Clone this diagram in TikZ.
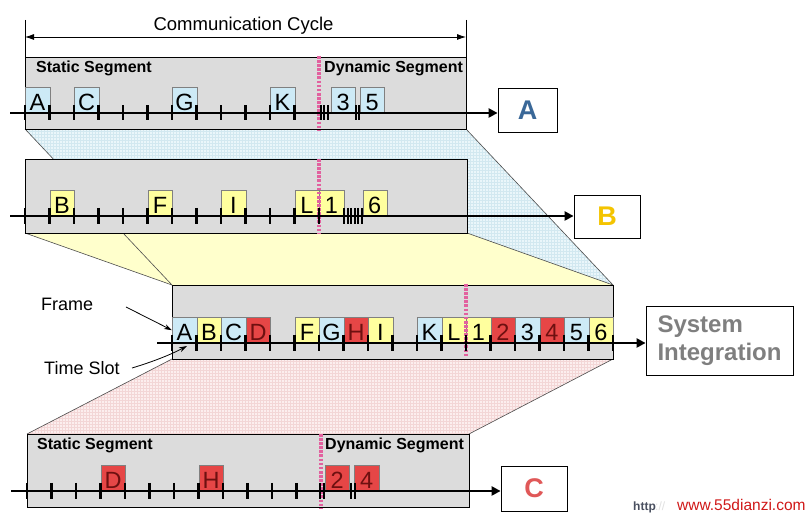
\documentclass[tikz,border=0pt]{standalone}
\usepackage{fontspec}
\setmainfont{Liberation Sans}
\usetikzlibrary{arrows.meta}
\definecolor{panelgray}{HTML}{DCDCDC}
\definecolor{fblue}{HTML}{CDEAF6}
\definecolor{fyellow}{HTML}{FFFF9E}
\definecolor{fred}{HTML}{E64646}
\definecolor{tred}{HTML}{6E1010}
\definecolor{dpink}{HTML}{E2619F}
\definecolor{gblue}{HTML}{EAF6FA}
\definecolor{gbluel}{HTML}{D2E8F0}
\definecolor{gyellow}{HTML}{FFFFCC}
\definecolor{gpink}{HTML}{FCEEEE}
\definecolor{gpinkl}{HTML}{F3D6D6}
\definecolor{lblue}{HTML}{3A6898}
\definecolor{lgold}{HTML}{F4C400}
\definecolor{lred}{HTML}{E05858}
\definecolor{sgray}{HTML}{7F7F7F}
\definecolor{wmred}{HTML}{D01818}
\definecolor{wmgray}{HTML}{4A5060}
\begin{document}
\begin{tikzpicture}[x=1pt,y=-1pt,
  panel/.style={fill=panelgray, draw=black, line width=0.8pt},
  frm/.style={draw=gray, line width=0.5pt, minimum width=24.5pt, minimum height=25pt,
    inner sep=0pt, anchor=south west, text height=21pt, text depth=1pt,
    font=\fontsize{23.5}{23.5}\selectfont},
  fb/.style={frm, fill=fblue},
  fy/.style={frm, fill=fyellow},
  fr/.style={frm, fill=fred, text=tred},
  tl/.style={line width=2.6pt, -{Triangle[length=9pt,width=9pt]}},
  tick/.style={line width=2.6pt},
  mtick/.style={line width=2pt},
  seg/.style={font=\bfseries\fontsize{16}{16}\selectfont, anchor=base west, inner sep=0pt},
  dyn/.style={dpink, line width=3.8pt, dash pattern=on 2.7pt off 1.4pt},
  lbl/.style={draw=black, line width=0.8pt, fill=white, inner sep=0pt,
    font=\bfseries\fontsize{27}{27}\selectfont},
  projedge/.style={draw=black!70, line width=0.6pt},
  note/.style={font=\fontsize{18}{18}\selectfont, anchor=base west, inner sep=0pt},
  thinarrow/.style={line width=0.8pt, -{Stealth[length=8pt,width=5pt]}}
]
\useasboundingbox (0,0) rectangle (812,518);
\fill[white] (0,0) rectangle (812,518);

% ---------- projections ----------
\begin{scope}
  \clip (25,129) -- (466,129) -- (613,285) -- (172,285) -- cycle;
  \fill[gblue] (20,125) rectangle (620,290);
  \foreach \x in {20,23,...,620} \draw[gbluel,line width=0.35pt] (\x,125) -- (\x,290);
  \foreach \y in {125,128,...,290} \draw[gbluel,line width=0.35pt] (20,\y) -- (620,\y);
\end{scope}
\fill[gyellow] (25,233) -- (467,233) -- (613,285) -- (172,285) -- cycle;
\begin{scope}
  \clip (172,359) -- (613,359) -- (469,434) -- (27,434) -- cycle;
  \fill[gpink] (20,355) rectangle (620,440);
  \foreach \x in {20,23,...,620} \draw[gpinkl,line width=0.35pt] (\x,355) -- (\x,440);
  \foreach \y in {355,358,...,440} \draw[gpinkl,line width=0.35pt] (20,\y) -- (620,\y);
\end{scope}
\draw[projedge] (25,129) -- (172,285);
\draw[projedge] (466,129) -- (613,285);
\draw[projedge] (25,233) -- (172,285);
\draw[projedge] (467,233) -- (613,285);
\draw[projedge] (172,359) -- (27,434);
\draw[projedge] (613,359) -- (469,434);

% ---------- communication cycle ----------
\draw[line width=0.8pt] (25,20) -- (25,57);
\draw[line width=0.8pt] (466,20) -- (466,57);
\coordinate (cc1) at (25,37);
\coordinate (cc2) at (466,37);
\draw[line width=0.8pt, {Latex[length=9pt,width=6pt]}-{Latex[length=9pt,width=6pt]}] (cc1) -- (cc2);
\node[font=\fontsize{18.5}{18.5}\selectfont, anchor=base, inner sep=0pt] (cclbl) at (243.5,31) {Communication Cycle};

% ---------- label boxes ----------
\node[lbl, text=lblue, minimum width=59pt, minimum height=44pt] (boxA) at (527.5,110) {A};
\node[lbl, text=lgold, minimum width=66pt, minimum height=43pt] (boxB) at (607,216.5) {B};
\node[lbl, text=lred, minimum width=66pt, minimum height=45pt] (boxC) at (534,488.5) {C};
\node[lbl, text=sgray, minimum width=147pt, minimum height=69pt, align=left,
      font=\bfseries\fontsize{24}{28}\selectfont] (boxSI) at (719.5,340.5) {System\\Integration};

% ================= ROW A =================
\draw[panel] (25,57) rectangle (466,129);
\node[seg] (sA) at (36,72.7) {Static Segment};
\node[seg] (dA) at (324,72.7) {Dynamic Segment};
\node[fb] (a1) at (25,113) {A};
\node[fb] (a2) at (74,113) {C};
\node[fb] (a3) at (172,113) {G};
\node[fb] (a4) at (270,113) {K};
\node[fb, minimum width=24pt] (a5) at (331,113) {3};
\node[fb, minimum width=24pt] (a6) at (360,113) {5};
\draw[dyn] (319,56) -- (319,130);
\coordinate (stA) at (10,113);
\draw[tl] (stA) -- (stA -| boxA.west);
\foreach \k in {0,...,11} \draw[tick] ({25+24.5*\k},105.5) -- ++(0,15);
\foreach \x in {320.5,324,327.5,355.5,359} \draw[mtick] (\x,105.5) -- ++(0,15);

% ================= ROW B =================
\draw[panel] (25,159) rectangle (467,233);
\node[fy] (b1) at (49.5,216) {B};
\node[fy] (b2) at (147.5,216) {F};
\node[fy] (b3) at (221,216) {I};
\node[fy] (b4) at (294.5,216) {L};
\node[fy] (b5) at (319,216) {1};
\node[fy, minimum width=24pt] (b6) at (362.5,216) {6};
\draw[dyn] (319,159) -- (319,234);
\coordinate (stB) at (10,216);
\draw[tl] (stB) -- (stB -| boxB.west);
\foreach \k in {0,...,12} \draw[tick] ({25+24.5*\k},208) -- ++(0,16);
\foreach \x in {344,347.5,351,354.5,358,361.5} \draw[mtick] (\x,208) -- ++(0,16);

% ================= SYSTEM ROW =================
\draw[panel] (172,285) rectangle (613,359);
\node[fb] (s0)  at ({172+24.5*0},343) {A};
\node[fy] (s1)  at ({172+24.5*1},343) {B};
\node[fb] (s2)  at ({172+24.5*2},343) {C};
\node[fr] (s3)  at ({172+24.5*3},343) {D};
\node[fy] (s5)  at ({172+24.5*5},343) {F};
\node[fb] (s6)  at ({172+24.5*6},343) {G};
\node[fr] (s7)  at ({172+24.5*7},343) {H};
\node[fy] (s8)  at ({172+24.5*8},343) {I};
\node[fb] (s10) at ({172+24.5*10},343) {K};
\node[fy] (s11) at ({172+24.5*11},343) {L};
\node[fy] (s12) at ({172+24.5*12},343) {1};
\node[fr] (s13) at ({172+24.5*13},343) {2};
\node[fb] (s14) at ({172+24.5*14},343) {3};
\node[fr] (s15) at ({172+24.5*15},343) {4};
\node[fb] (s16) at ({172+24.5*16},343) {5};
\node[fy] (s17) at ({172+24.5*17},343) {6};
\draw[dyn] (466,284) -- (466,356);
\coordinate (stS) at (157,343);
\draw[tl] (stS) -- (stS -| boxSI.west);
\foreach \k in {0,...,18} \draw[tick] ({172+24.5*\k},335) -- ++(0,16);

% annotations
\node[note] (frmlbl) at (41,311) {Frame};
\node[note] (tslbl) at (44,375) {Time Slot};
\coordinate (fa1) at (126,307);
\draw[thinarrow] (fa1) -- (s0.west);
\coordinate (ta1) at (132,368);
\coordinate (ta2) at (187,346);
\draw[thinarrow] (ta1) .. controls (152,362) and (170,355) .. (ta2);

% ================= ROW C =================
\draw[panel] (27,434) rectangle (469,507);
\node[seg] (sC) at (37,450) {Static Segment};
\node[seg] (dC) at (325,450) {Dynamic Segment};
\node[fr] (c1) at (100.5,491) {D};
\node[fr] (c2) at (198.5,491) {H};
\node[fr, minimum width=24pt] (c3) at (325,491) {2};
\node[fr, minimum width=25pt] (c4) at (354,491) {4};
\draw[dyn] (321,434) -- (321,509);
\coordinate (stC) at (11,491);
\draw[tl] (stC) -- (stC -| boxC.west);
\foreach \k in {0,...,11} \draw[tick] ({27+24.5*\k},483) -- ++(0,16);
\foreach \x in {320,323.5,351,354.5} \draw[mtick] (\x,483) -- ++(0,16);

% ---------- watermark ----------
\node[anchor=base west, inner sep=0pt, text=wmgray, font=\bfseries\fontsize{12}{12}\selectfont] (wm1) at (633,511) {http};
\node[anchor=base west, inner sep=0pt, text=black!12, font=\fontsize{12}{12}\selectfont] (wm2) at (655,511) {://};
\node[anchor=base west, inner sep=0pt, text=wmred, font=\fontsize{15.5}{15.5}\selectfont] (wm3) at (677,511) {www.55dianzi.com};
\end{tikzpicture}
\end{document}
